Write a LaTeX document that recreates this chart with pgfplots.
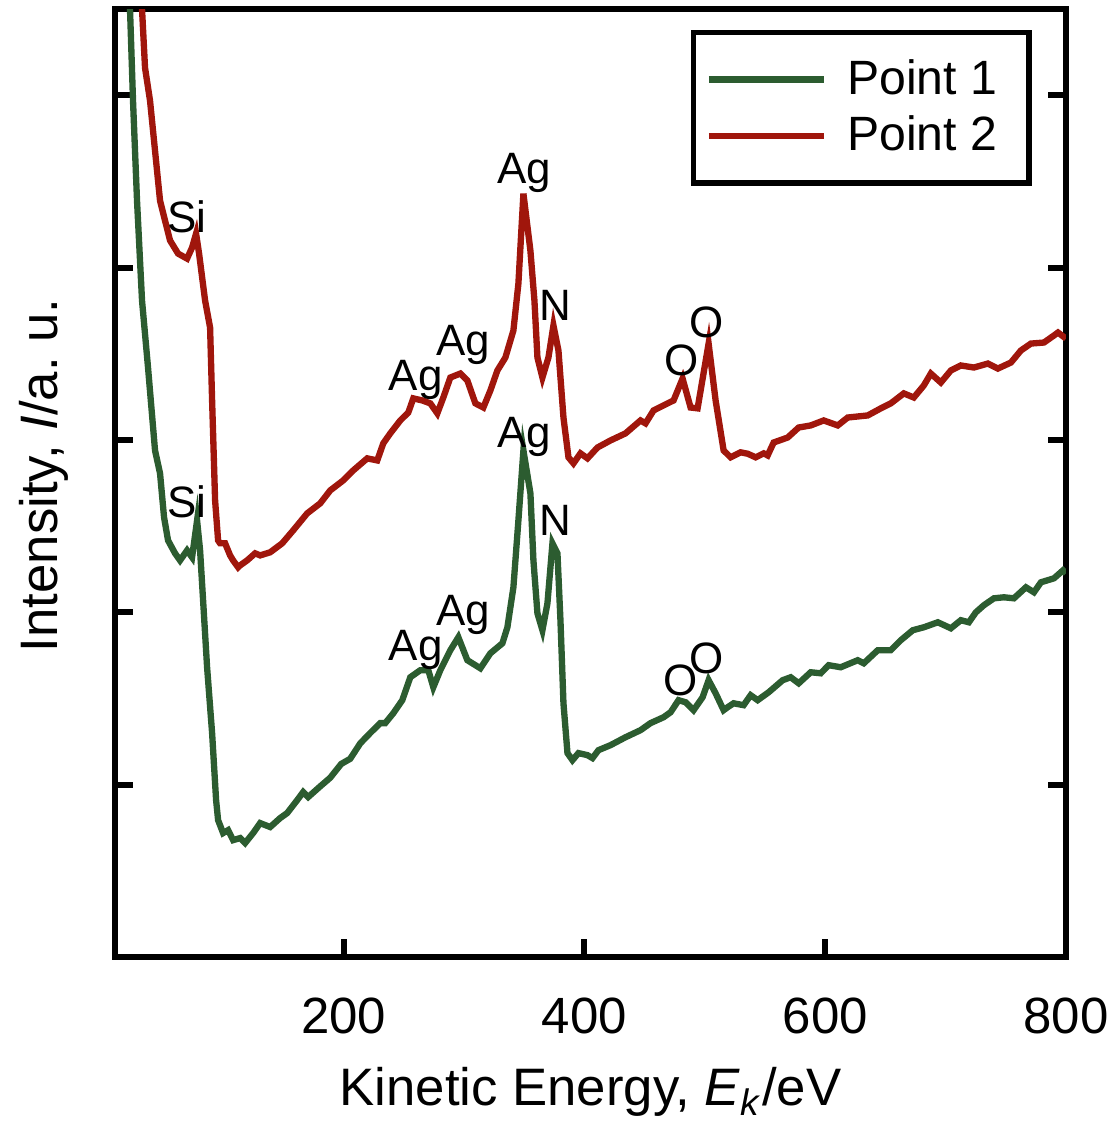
\documentclass[border=0pt]{standalone}
\usepackage{fontspec}
\setmainfont{Liberation Sans}
\usepackage{pgfplots}
\pgfplotsset{compat=1.18}
\definecolor{pgreen}{RGB}{44,92,48}
\definecolor{pred}{RGB}{160,22,12}
\newcommand{\annfont}{\fontsize{12.5}{14}\selectfont}
\begin{document}
\begin{tikzpicture}
\useasboundingbox (-1.15cm,-1.73cm) rectangle (9.95cm,9.57cm);
\begin{axis}[
  scale only axis, width=9.51cm, height=9.48cm,
  xmin=10, xmax=800, ymin=0, ymax=5.5,
  xtick={200,400,600,800}, ytick={1,2,3,4,5}, yticklabels={},
  xtick pos=left, ytick pos=both, tick align=inside,
  major tick length=1.8mm,
  tick style={line width=1.7pt, black},
  axis line style={line width=1.7pt, black},
  /pgf/number format/assume math mode=true,
  xticklabel style={font=\fontsize{14.5}{16}\selectfont, anchor=base, yshift=-7.6mm},
  xlabel={Kinetic Energy, \textit{E}\textsubscript{\textit{k}}/eV},
  ylabel={Intensity, \textit{I}/a.\ u.},
  every axis x label/.style={at={(axis description cs:0.5,-0.157)}, anchor=base, font=\fontsize{15}{17}\selectfont},
  every axis y label/.style={at={(axis description cs:-0.0745,0.508)}, anchor=center, rotate=90, font=\fontsize{15}{17}\selectfont},
  legend style={at={(axis description cs:0.964,0.978)}, anchor=north east, draw=black, line width=1.5pt,
    font=\fontsize{13.7}{16}\selectfont, inner xsep=1.2mm, inner ysep=2mm, row sep=0.2mm},
  legend cell align=left,
  legend image code/.code={\draw[#1] (0mm,0mm) -- (11.5mm,0mm); \path (12.8mm,0mm);},
]
\addplot[pgreen, line width=1.8pt] coordinates {
(20.8,5.84) (22.47,5.50) (24.97,4.968) (28.30,4.388) (32.45,3.809) (37.44,3.420)
(43.26,2.939) (47.42,2.806) (50.75,2.551) (54.07,2.417) (59.90,2.342) (64.05,2.301)
(69.88,2.359) (74.03,2.319) (78.19,2.533) (80.69,2.359) (83.18,2.070) (86.51,1.681)
(90.67,1.299) (93.99,0.910) (95.65,0.794) (99.81,0.719) (103.97,0.736) (108.13,0.678)
(113.95,0.690) (118.11,0.661) (124.76,0.719) (130.58,0.777) (138.90,0.754) (147.21,0.806)
(153.04,0.835) (161.35,0.910) (166.34,0.957) (170.50,0.928) (180.48,0.99) (188.79,1.04)
(197.9,1.12) (205.4,1.15) (213.8,1.24) (222.1,1.30) (230.37,1.357) (234.53,1.357)
(241.18,1.414) (248.67,1.490) (255.32,1.623) (263.64,1.664) (270.29,1.664) (274.45,1.565)
(280.27,1.664) (288.59,1.780) (295.24,1.855) (302.72,1.722) (313.53,1.675) (321.85,1.762)
(331.83,1.820) (335.99,1.913) (340.98,2.145) (345.13,2.533) (349.29,2.939) (355.11,2.690)
(357.61,2.301) (360.94,1.994) (365.09,1.896) (369.25,2.052) (373.41,2.400) (377.57,2.342)
(380.06,1.954) (382.56,1.472) (385.89,1.183) (390.04,1.142) (395.03,1.183) (402.52,1.171)
(406.67,1.154) (411.66,1.200) (421.64,1.229) (434.12,1.275) (446.59,1.316) (454.91,1.357)
(465.72,1.391) (471.54,1.420) (478.19,1.490) (484.01,1.478) (490.66,1.432) (498.15,1.507)
(503.14,1.606) (508.96,1.530) (515.61,1.432) (518.94,1.449) (523.93,1.472) (532.24,1.461)
(538.07,1.519) (543.89,1.490) (553.04,1.536) (564.68,1.606) (571.33,1.623) (577.99,1.588)
(587.96,1.652) (596.28,1.646) (602.93,1.693) (612.91,1.681) (627.05,1.722) (632.04,1.704)
(643.68,1.780) (654.49,1.780) (662.81,1.838) (672.79,1.896) (681.93,1.913) (693.58,1.942)
(704.39,1.907) (712.70,1.954) (719.35,1.942) (725.18,2.000) (731.83,2.041) (740.14,2.081)
(748.46,2.087) (756.78,2.081) (766.76,2.145) (773.41,2.116) (779.23,2.174) (790.04,2.197)
(797.53,2.243) (800,2.226)
};
\addlegendentry{Point 1\hspace*{1.3mm}}
\addplot[pred, line width=1.8pt] coordinates {
(30.0,5.84) (32.45,5.50) (34.95,5.159) (39.11,4.968) (43.26,4.678) (47.42,4.388)
(51.58,4.272) (55.74,4.157) (62.39,4.081) (69.88,4.052) (74.03,4.116) (77.36,4.197)
(79.85,4.081) (84.84,3.809) (89.00,3.652) (90.67,3.229) (93.16,2.649) (95.65,2.417)
(97.32,2.400) (101.48,2.400) (105.63,2.33) (108.13,2.301) (112.29,2.261) (113.95,2.272)
(119.77,2.301) (126.42,2.342) (130.58,2.33) (138.90,2.348) (148.88,2.400) (158.02,2.475)
(169.67,2.574) (180.48,2.632) (188.79,2.707) (199.60,2.765) (207.92,2.823) (219.56,2.893)
(227.88,2.881) (232.87,2.980) (238.69,3.038) (247.01,3.113) (253.66,3.159) (257.82,3.241)
(265.30,3.229) (271.95,3.212) (277.78,3.154) (282.76,3.246) (288.59,3.362) (296.90,3.385)
(302.72,3.345) (309.38,3.212) (316.03,3.188) (321.85,3.287) (327.67,3.403) (334.32,3.478)
(340.98,3.635) (345.13,3.907) (349.29,4.429) (355.11,4.098) (358.44,3.809) (360.94,3.478)
(365.09,3.362) (370.08,3.478) (374.24,3.664) (378.40,3.519) (382.56,3.130) (386.71,2.899)
(390.87,2.864) (396.69,2.922) (402.52,2.893) (410.83,2.956) (421.64,2.997) (434.12,3.038)
(446.59,3.113) (450.75,3.096) (457.40,3.171) (469.05,3.212) (474.03,3.229) (481.52,3.356)
(488.17,3.188) (493.99,3.183) (503.14,3.559) (508.96,3.229) (515.61,2.939) (521.43,2.899)
(529.75,2.928) (535.57,2.92) (542.22,2.899) (548.88,2.922) (552.20,2.910) (557.19,2.985)
(568.84,3.014) (577.99,3.072) (587.96,3.084) (598.77,3.113) (610.42,3.084) (618.73,3.130)
(635.36,3.142) (646.17,3.183) (654.49,3.212) (665.30,3.270) (673.62,3.246) (681.93,3.316)
(687.75,3.385) (696.07,3.333) (704.39,3.403) (712.70,3.432) (723.51,3.420) (735.16,3.443)
(743.47,3.414) (754.28,3.449) (762.60,3.519) (770.91,3.559) (781.72,3.565) (790.04,3.606)
(793.37,3.623) (800,3.588)
};
\addlegendentry{Point 2\hspace*{1.3mm}}
% annotations, red
\node[anchor=base, font=\annfont] at (axis cs:69.88,4.203) {Si};
\node[anchor=base, font=\annfont] at (axis cs:259.9,3.287) {Ag};
\node[anchor=base, font=\annfont] at (axis cs:299.0,3.490) {Ag};
\node[anchor=base, font=\annfont] at (axis cs:349.7,4.487) {Ag};
\node[anchor=base, font=\annfont] at (axis cs:375.9,3.693) {N};
\node[anchor=base, font=\annfont] at (axis cs:480.7,3.374) {O};
\node[anchor=base, font=\annfont] at (axis cs:501.5,3.594) {O};
% annotations, green
\node[anchor=base, font=\annfont] at (axis cs:69.88,2.551) {Si};
\node[anchor=base, font=\annfont] at (axis cs:259.9,1.722) {Ag};
\node[anchor=base, font=\annfont] at (axis cs:299.0,1.925) {Ag};
\node[anchor=base, font=\annfont] at (axis cs:349.7,2.956) {Ag};
\node[anchor=base, font=\annfont] at (axis cs:375.9,2.446) {N};
\node[anchor=base, font=\annfont] at (axis cs:479.9,1.519) {O};
\node[anchor=base, font=\annfont] at (axis cs:501.5,1.646) {O};
\end{axis}
\end{tikzpicture}
\end{document}
